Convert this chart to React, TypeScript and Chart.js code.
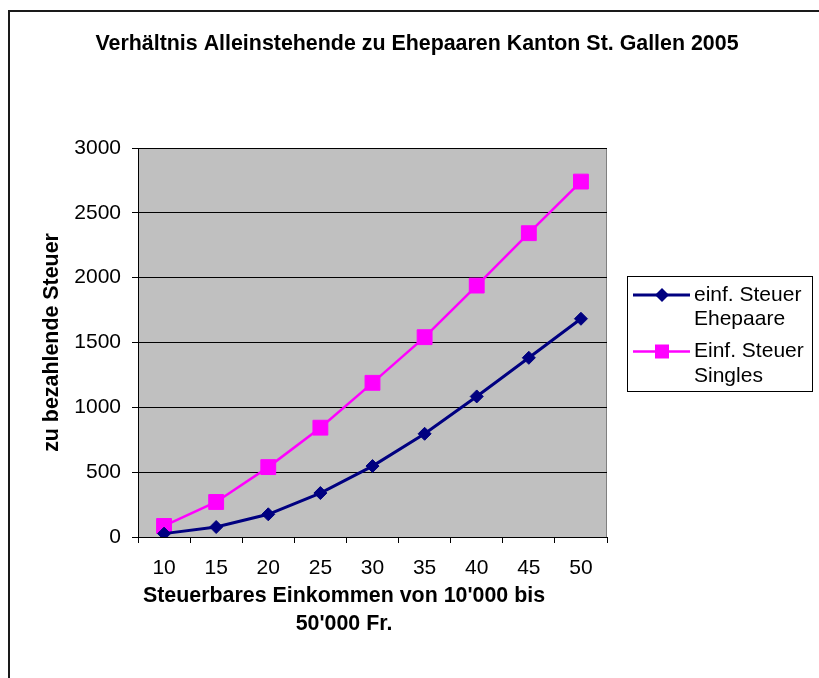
import React, { useEffect, useRef } from "react";
import { Chart, registerables } from "chart.js";

Chart.register(...registerables);

const chartTitle = "Verhältnis Alleinstehende zu Ehepaaren Kanton St. Gallen 2005";
const yAxisTitle = "zu bezahlende Steuer";
const xAxisTitleLines = ["Steuerbares Einkommen von 10'000 bis", "50'000 Fr."];

const categories = ["10", "15", "20", "25", "30", "35", "40", "45", "50"];
const ehepaare = [26, 77, 175, 339, 547, 796, 1084, 1382, 1683];
const singles = [85, 270, 539, 843, 1189, 1541, 1939, 2343, 2741];

const seriesNames = [
  ["einf. Steuer", "Ehepaare"],
  ["Einf. Steuer", "Singles"],
];

const yMin = 0;
const yMax = 3000;
const yStep = 500;

const NAVY = "#000080";
const MAGENTA = "#FF00FF";
const FONT = "Arial, 'Liberation Sans', sans-serif";
const FS = 21;
const FSB = 21.4;

const decorPlugin = {
  id: "decor",
  beforeDraw(chart: any) {
    const { ctx, chartArea } = chart;
    ctx.save();
    ctx.fillStyle = "#ffffff";
    ctx.fillRect(0, 0, chart.width, chart.height);
    // outer frame (left and top only visible)
    ctx.fillStyle = "#1a1a1a";
    ctx.fillRect(8, 10, chart.width - 8, 2);
    ctx.fillRect(8, 10, 2, chart.height - 10);
    // plot area
    ctx.fillStyle = "#C0C0C0";
    ctx.fillRect(chartArea.left, chartArea.top, chartArea.right - chartArea.left, chartArea.bottom - chartArea.top);
    ctx.strokeStyle = "#808080";
    ctx.lineWidth = 1;
    ctx.beginPath();
    ctx.moveTo(chartArea.left, chartArea.top + 0.5);
    ctx.lineTo(chartArea.right - 0.5, chartArea.top + 0.5);
    ctx.lineTo(chartArea.right - 0.5, chartArea.bottom);
    ctx.stroke();
    ctx.restore();
  },
  afterDraw(chart: any) {
    const { ctx, chartArea } = chart;
    ctx.save();
    ctx.fillStyle = "#000";
    // title
    ctx.font = `bold ${FSB}px ${FONT}`;
    ctx.textAlign = "center";
    ctx.textBaseline = "middle";
    ctx.fillText(chartTitle, 417, 44);
    // x title
    ctx.fillText(xAxisTitleLines[0], 344, 596);
    ctx.fillText(xAxisTitleLines[1], 344, 624);
    // y title
    ctx.save();
    ctx.translate(52, (chartArea.top + chartArea.bottom) / 2);
    ctx.rotate(-Math.PI / 2);
    ctx.fillText(yAxisTitle, 0, 0);
    ctx.restore();

    // legend
    const lx = 627.5, ly = 276.5, lw = 185, lh = 115;
    ctx.fillStyle = "#ffffff";
    ctx.fillRect(lx, ly, lw, lh);
    ctx.strokeStyle = "#000";
    ctx.lineWidth = 1;
    ctx.strokeRect(lx, ly, lw, lh);
    const ds = chart.data.datasets;
    const rows = [295, 351.5];
    ctx.font = `${FS}px ${FONT}`;
    ctx.textAlign = "left";
    ctx.textBaseline = "middle";
    ds.forEach((d: any, i: number) => {
      const y = rows[i];
      ctx.strokeStyle = d.borderColor;
      ctx.lineWidth = d.borderWidth;
      ctx.beginPath();
      ctx.moveTo(633, y);
      ctx.lineTo(690, y);
      ctx.stroke();
      ctx.fillStyle = d.backgroundColor;
      ctx.beginPath();
      if (d.pointStyle === "rectRot") {
        const r = 7;
        ctx.moveTo(662 - r, y);
        ctx.lineTo(662, y - r);
        ctx.lineTo(662 + r, y);
        ctx.lineTo(662, y + r);
        ctx.closePath();
        ctx.fill();
      } else {
        const s = 7;
        ctx.rect(662 - s, y - s, 2 * s, 2 * s);
        ctx.fill();
      }
      ctx.fillStyle = "#000";
      ctx.fillText(seriesNames[i][0], 694, y);
      ctx.fillText(seriesNames[i][1], 694, y + 24.5);
    });
    ctx.restore();
  },
};

export default function App() {
  const ref = useRef<HTMLCanvasElement | null>(null);
  useEffect(() => {
    if (!ref.current) return;
    const chart = new Chart(ref.current, {
      type: "line",
      data: {
        labels: categories,
        datasets: [
          {
            label: seriesNames[0].join(" "),
            data: ehepaare,
            borderColor: NAVY,
            backgroundColor: NAVY,
            borderWidth: 3,
            pointStyle: "rectRot",
            pointRadius: 6.5,
            pointBorderWidth: 1,
            pointBorderColor: NAVY,
            pointBackgroundColor: NAVY,
            tension: 0,
          },
          {
            label: seriesNames[1].join(" "),
            data: singles,
            borderColor: MAGENTA,
            backgroundColor: MAGENTA,
            borderWidth: 2.5,
            pointStyle: "rect",
            pointRadius: 10.5,
            pointBorderWidth: 1,
            pointBorderColor: MAGENTA,
            pointBackgroundColor: MAGENTA,
            tension: 0,
          },
        ],
      },
      options: {
        animation: false,
        responsive: false,
        devicePixelRatio: 1,
        layout: { padding: { left: 48, top: 148, right: 212, bottom: 101 } },
        plugins: {
          legend: { display: false },
          title: { display: false },
          tooltip: { enabled: false },
        },
        scales: {
          x: {
            type: "category",
            offset: true,
            afterFit: (s: any) => { s.height = 40; },
            grid: {
              offset: true,
              drawOnChartArea: false,
              drawTicks: true,
              tickLength: 6,
              color: "#000",
            },
            border: { display: true, color: "#000", width: 1 },
            ticks: { color: "#000", font: { family: FONT, size: FS }, padding: 13, maxRotation: 0, autoSkip: false },
          },
          y: {
            min: yMin,
            max: yMax,
            afterFit: (s: any) => { s.width = 90; },
            grid: { color: "#000", lineWidth: 1, tickLength: 6, drawTicks: true },
            border: { display: true, color: "#000", width: 1 },
            ticks: {
              stepSize: yStep,
              color: "#000",
              font: { family: FONT, size: FS },
              padding: 11,
              callback: (v: any) => String(v),
            },
          },
        },
      },
      plugins: [decorPlugin],
    });
    return () => chart.destroy();
  }, []);

  return (
    <div style={{ position: "fixed", left: 0, top: 0, width: 819, height: 678, background: "#fff" }}>
      <canvas ref={ref} width={819} height={678} style={{ display: "block", width: 819, height: 678 }} />
    </div>
  );
}
